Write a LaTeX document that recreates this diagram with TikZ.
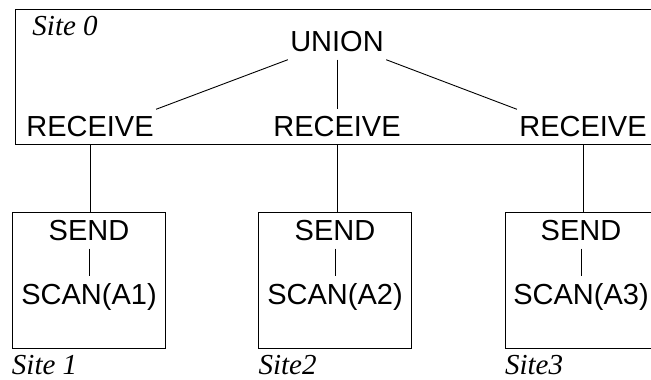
\documentclass[tikz,border=0pt]{standalone}
\usepackage{fontspec}
\setmainfont{Liberation Serif}
\setsansfont{Liberation Sans}
\begin{document}
\begin{tikzpicture}[x=1pt, y=1pt, line width=0.9pt,
        op/.style={font=\sffamily\fontsize{29}{34}\selectfont, inner xsep=2pt, inner ysep=7pt},
        sitebox/.style={draw, minimum width=153pt, minimum height=136pt, inner sep=0pt},
        sitelabel/.style={font=\itshape\fontsize{29}{34}\selectfont, inner sep=0pt, anchor=base west}]
        \useasboundingbox (0,0) rectangle (651,380);
        % サイト0の枠
        \draw (15,236) rectangle (660,371);
        \node[sitelabel] (lab0) at (32,344) {Site 0};
        
        % 演算子の描画
        \node[op] (union) at (337,338) {UNION};
        \foreach \i/\x in {1/90, 2/337, 3/583}
            \node[op] (recv\i) at (\x,253) {RECEIVE};
        
        % UNIONからの線
        \draw (union.south west) -- (recv1.north east);
        \draw (union.south) -- (recv2.north);
        \draw (union.south east) -- (recv3.north west);
        
        % 各サイトの描画
        \foreach \i/\x/\bx/\name in {1/89/88.5/Site 1, 2/335/335/Site2, 3/581/581.5/Site3} {
            \node[sitebox] (site\i) at (\bx,100) {};
            \node[op] (send\i) at (\x,149) {SEND};
            \node[op] (scan\i) at (\x,83.5) {SCAN(A\i)};
            \node[sitelabel] (lab\i) at ([yshift=-26pt]site\i.south west) {\name};
            \draw (send\i) -- (scan\i);
            \draw (recv\i.south) -- (recv\i.south |- site\i.north);
        }
        
    \end{tikzpicture}
\end{document}
